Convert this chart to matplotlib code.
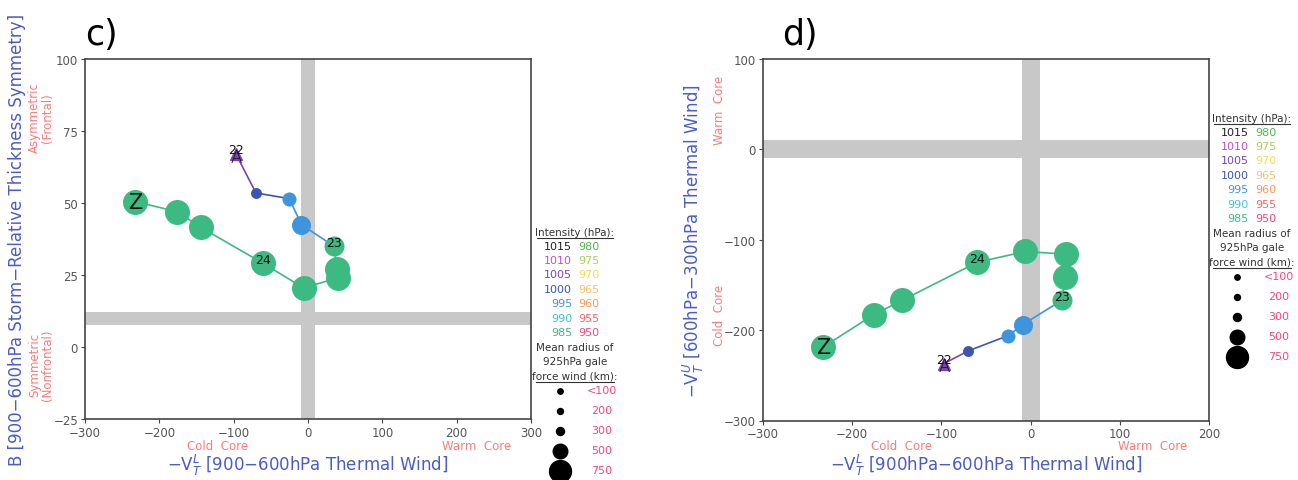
import matplotlib
matplotlib.use("Agg")
import matplotlib.pyplot as plt
from matplotlib.lines import Line2D

# storm track, 6-hourly points (same track in both panels)
vtl = [-97, -70, -25, -9, 35, 39, 40, -6, -60, -144, -176, -233]
b_param = [67, 53.5, 51.5, 42.5, 35, 27, 24, 20.5, 29, 41.5, 47, 50.5]
vtu = [-237, -223, -206, -194, -167, -141, -116, -113, -125, -167, -183, -219]
mslp = [1005, 1000, 995, 995, 985, 985, 985, 985, 985, 985, 985, 985]
gale_radius = [0, 350, 450, 610, 640, 800, 800, 800, 800, 800, 800, 800]
day_labels = {0: "22", 4: "23", 8: "24"}

# legend content
legend_p_left = [1015, 1010, 1005, 1000, 995, 990, 985]
legend_p_right = [980, 975, 970, 965, 960, 955, 950]
legend_radius = [100, 200, 300, 500, 750]
legend_radius_labels = ["<100", "200", "300", "500", "750"]

p_colors = {1015: "#222222", 1010: "#c050c8", 1005: "#7b45b0", 1000: "#3c55b0",
            995: "#3f95dc", 990: "#40c4d0", 985: "#3dba82", 980: "#50b850",
            975: "#a8d058", 970: "#f4dc50", 965: "#f8c070", 960: "#f89858",
            955: "#f86868", 950: "#f04880"}
legend_dot_size = {100: 3.9, 200: 4.3, 300: 5.8, 500: 10.5, 750: 15.8}

blue = "#4b5cc4"
red = "#f87c7c"
grey_band = "#c8c8c8"

W, H = 1298, 481
fig = plt.figure(figsize=(W / 100, H / 100), dpi=100)


def fx(x):
    return x / W


def fy(y):
    return 1 - y / H


def draw_track(ax, xs, ys):
    # segments, coloured by the starting point
    for i in range(len(xs) - 1):
        ax.plot(xs[i:i + 2], ys[i:i + 2], color=p_colors[mslp[i]], lw=1.2, zorder=3)
    for i in range(len(xs)):
        if gale_radius[i] == 0:
            ax.plot(xs[i], ys[i], marker="^", ms=8, color=p_colors[mslp[i]], zorder=4)
        else:
            d = gale_radius[i] * 0.0225
            ax.plot(xs[i], ys[i], marker="o", ms=d, color=p_colors[mslp[i]],
                    mec="none", zorder=4)
    for i, lab in day_labels.items():
        ax.annotate(lab, (xs[i], ys[i]), xytext=(0, 3), textcoords="offset points",
                    ha="center", va="center", fontsize=9, color="#111", zorder=5)
    ax.annotate("A", (xs[0], ys[0]), xytext=(0, -2), textcoords="offset points",
                ha="center", va="center", fontsize=12, color="#111", fontweight="light",
                zorder=5)
    ax.annotate("Z", (xs[-1], ys[-1]), ha="center", va="center", fontsize=15,
                color="#111", zorder=5)


def style(ax):
    for s in ["top", "right", "left", "bottom"]:
        ax.spines[s].set_color("#444444")
        ax.spines[s].set_linewidth(1.2)
    ax.tick_params(labelsize=8.5, labelcolor="#555555", color="#444444", length=3,
                   pad=2, top=False, right=False)


def legend(x0, y0):
    # x0: centre of the legend block, y0: header line (pixels)
    fig.text(fx(x0), fy(y0), "Intensity (hPa):", ha="center", va="center",
             fontsize=7.5, color="#333")
    fig.add_artist(Line2D([fx(x0 - 38), fx(x0 + 38)], [fy(y0 + 6), fy(y0 + 6)],
                          color="#333", lw=0.8, transform=fig.transFigure))
    for k, (pl, pr) in enumerate(zip(legend_p_left, legend_p_right)):
        yy = y0 + 13.7 + k * 14.4
        fig.text(fx(x0 - 3), fy(yy), str(pl), ha="right", va="center", fontsize=8,
                 color=p_colors[pl])
        fig.text(fx(x0 + 3), fy(yy), str(pr), ha="left", va="center", fontsize=8,
                 color=p_colors[pr])
    for k, s in enumerate(["Mean radius of", "925hPa gale", "force wind (km):"]):
        fig.text(fx(x0), fy(y0 + 115 + k * 14.5), s, ha="center", va="center",
                 fontsize=7.5, color="#333")
    fig.add_artist(Line2D([fx(x0 - 39), fx(x0 + 39)], [fy(y0 + 150), fy(y0 + 150)],
                          color="#333", lw=0.8, transform=fig.transFigure))
    for k, (r, lab) in enumerate(zip(legend_radius, legend_radius_labels)):
        yy = y0 + 158.5 + k * 20
        fig.add_artist(Line2D([fx(x0 - 15)], [fy(yy)], marker="o",
                              ms=legend_dot_size[r], color="black", ls="none",
                              transform=fig.transFigure))
        fig.text(fx(x0 + 27), fy(yy), lab, ha="center", va="center", fontsize=8,
                 color=p_colors[950])


# ---------------- panel c ----------------
axc = fig.add_axes([fx(85), fy(420), fx(446), 360 / H])
axc.axvspan(-10, 10, color=grey_band, lw=0, zorder=1)
axc.axhspan(7.8, 12.2, color=grey_band, lw=0, zorder=1)
draw_track(axc, vtl, b_param)
axc.set_xlim(-300, 300)
axc.set_ylim(-25, 100)
axc.set_xticks([-300, -200, -100, 0, 100, 200, 300])
axc.set_yticks([-25, 0, 25, 50, 75, 100])
style(axc)

fig.text(fx(85), fy(35), "c)", fontsize=25, ha="left", va="center")
fig.text(fx(308), fy(465), "\u2212V$_T^L$ [900\u2212600hPa Thermal Wind]",
         ha="center", va="center", fontsize=12, color=blue)
fig.text(fx(17), fy(240), "B [900\u2212600hPa Storm\u2212Relative Thickness Symmetry]",
         ha="center", va="center", rotation=90, fontsize=12, color=blue)
fig.text(fx(218), fy(446), "Cold  Core", ha="center", va="center", fontsize=8.5, color=red)
fig.text(fx(477), fy(446), "Warm  Core", ha="center", va="center", fontsize=8.5, color=red)
fig.text(fx(41), fy(118), "Asymmetric\n(Frontal)", ha="center", va="center",
         rotation=90, fontsize=8.5, color=red, linespacing=1.0)
fig.text(fx(41), fy(365), "Symmetric\n(Nonfrontal)", ha="center", va="center",
         rotation=90, fontsize=8.5, color=red, linespacing=1.0)
legend(575, 233)

# ---------------- panel d ----------------
axd = fig.add_axes([fx(763), fy(421.5), fx(446), 361.5 / H])
axd.axvspan(-10, 10, color=grey_band, lw=0, zorder=1)
axd.axhspan(-10, 10, color=grey_band, lw=0, zorder=1)
draw_track(axd, vtl, vtu)
axd.set_xlim(-300, 200)
axd.set_ylim(-300, 100)
axd.set_xticks([-300, -200, -100, 0, 100, 200])
axd.set_yticks([-300, -200, -100, 0, 100])
style(axd)

fig.text(fx(782), fy(35), "d)", fontsize=25, ha="left", va="center")
fig.text(fx(986), fy(465), "\u2212V$_T^L$ [900hPa\u2212600hPa Thermal Wind]",
         ha="center", va="center", fontsize=12, color=blue)
fig.text(fx(693), fy(241), "\u2212V$_T^U$ [600hPa\u2212300hPa Thermal Wind]",
         ha="center", va="center", rotation=90, fontsize=12, color=blue)
fig.text(fx(902), fy(446), "Cold  Core", ha="center", va="center", fontsize=8.5, color=red)
fig.text(fx(1153), fy(446), "Warm  Core", ha="center", va="center", fontsize=8.5, color=red)
fig.text(fx(720), fy(110), "Warm  Core", ha="center", va="center", rotation=90,
         fontsize=8.5, color=red)
fig.text(fx(720), fy(315), "Cold  Core", ha="center", va="center", rotation=90,
         fontsize=8.5, color=red)
legend(1252, 119)

fig.savefig("out.png", dpi=100)
